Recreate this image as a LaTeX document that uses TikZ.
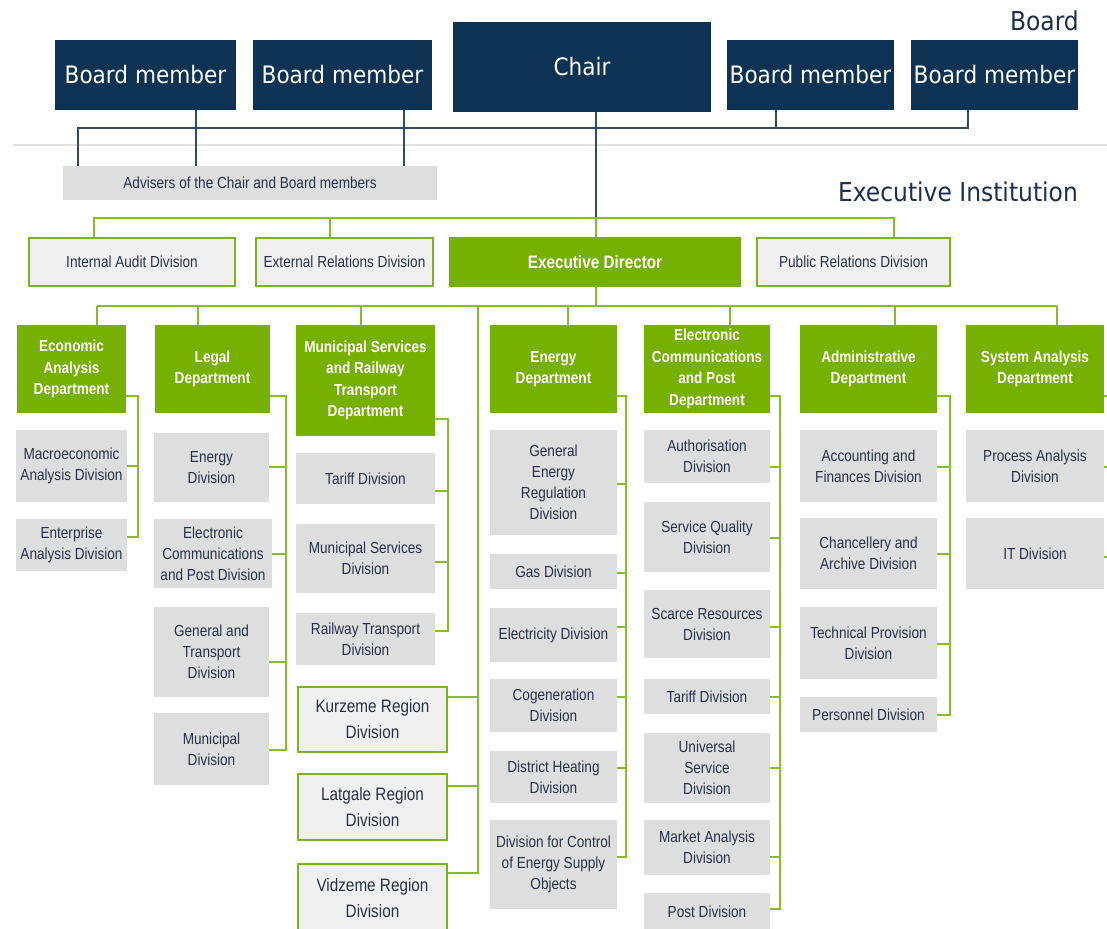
\documentclass[tikz,border=0pt]{standalone}
\usepackage{fontspec}
\newfontfamily\boardfont[FakeStretch=0.9]{DejaVu Sans}
\newfontfamily\divfont[FakeStretch=0.85]{Liberation Sans}
\definecolor{cNavy}{HTML}{0E3254}
\definecolor{cTitle}{HTML}{1C2F4E}
\definecolor{cDept}{HTML}{76B000}
\definecolor{cLine}{HTML}{86BE2A}
\definecolor{cBorder}{HTML}{78B41E}
\definecolor{cGray}{HTML}{DEDEDE}
\definecolor{cLight}{HTML}{F0F0F0}
\definecolor{cText}{HTML}{26324A}
\definecolor{cDark}{HTML}{34495C}
\definecolor{cSep}{HTML}{E2E2E2}
\newcommand\mkbox[7]{\node[#1, minimum width={(#5-#3)*1pt}, minimum height={(#6-#4)*1pt}] (#2) at ({(#3+#5)/2},{(#4+#6)/2}) {#7};}
\tikzset{
  boardbox/.style={fill=cNavy, draw=none, text=white, inner sep=1pt, font=\boardfont\fontsize{24}{28}\selectfont},
  deptbox/.style={fill=cDept, draw=none, text=white, inner sep=1pt, align=center, font=\divfont\bfseries\fontsize{16}{21.5}\selectfont},
  divbox/.style={fill=cGray, draw=none, text=cText, inner sep=1pt, align=center, font=\divfont\fontsize{16}{21}\selectfont},
  gbox/.style={fill=cLight, draw=cBorder, line width=2.6pt, text=cText, inner sep=1pt, align=center, font=\divfont\fontsize{16}{21}\selectfont},
  regbox/.style={gbox, font=\divfont\fontsize{18}{26}\selectfont},
  edbox/.style={fill=cDept, draw=none, text=white, inner sep=1pt, font=\divfont\bfseries\fontsize{18}{22}\selectfont},
  dline/.style={draw=cDark, line width=2.4pt},
  gline/.style={draw=cLine, line width=2.8pt},
  titletext/.style={text=cTitle, inner sep=0pt, font=\boardfont\fontsize{26}{30}\selectfont}
}
\begin{document}
\begin{tikzpicture}[x=1pt,y=-1pt]
\useasboundingbox (0,0) rectangle (1107,928);
\clip (0,0) rectangle (1107,928);
\fill[white] (0,0) rectangle (1107,928);
% separator
\draw[draw=cSep, line width=1.4pt] (13,145) -- (1107,145);
% titles
\node[titletext, anchor=east] (boardlbl) at (1079,21) {Board};
\node[titletext, anchor=east] (execlbl) at (1078,192) {Executive Institution};
% board
\mkbox{boardbox}{bm1}{55}{40}{236}{110}{Board member}
\mkbox{boardbox}{bm2}{253}{40}{432}{110}{Board member}
\mkbox{boardbox}{chair}{453}{22}{711}{112}{Chair}
\mkbox{boardbox}{bm3}{727}{40}{894}{110}{Board member}
\mkbox{boardbox}{bm4}{911}{40}{1078}{110}{Board member}
\mkbox{divbox}{adv}{63}{166}{437}{200}{Advisers of the Chair and Board members}
% board connectors
\coordinate (bl) at (78,128);
\coordinate (br) at (968,128);
\draw[dline] (adv.north -| bl) -- (bl) -- (br) -- (bm4.south -| br);
\draw[dline] (bm1.south -| 196,0) -- (adv.north -| 196,0);
\draw[dline] (bm2.south -| 404,0) -- (adv.north -| 404,0);
\draw[dline] (bm3.south -| 776,0) -- (776,128);
\coordinate (cj) at (596,218);
\draw[dline] (chair.south -| cj) -- (cj);
% executive level
\mkbox{gbox}{ia}{29}{238}{235}{286}{Internal Audit Division}
\mkbox{gbox}{er}{256}{238}{433}{286}{External Relations Division}
\mkbox{edbox}{ed}{449}{237}{741}{287}{Executive Director}
\mkbox{gbox}{pr}{757}{238}{950}{286}{Public Relations Division}
\draw[gline] (ia.north -| 94,0) -- (94,218) -- (894,218) -- (pr.north -| 894,0);
\draw[gline] (er.north -| 330,0) -- (330,218);
\draw[gline] (cj) -- (ed.north -| cj);
% departments
\mkbox{deptbox}{econ}{17}{325}{126}{413}{Economic\\Analysis\\Department}
\mkbox{deptbox}{legal}{155}{325}{270}{413}{Legal\\Department}
\mkbox{deptbox}{muni}{296}{325}{435}{436}{Municipal Services\\and Railway\\Transport\\Department}
\mkbox{deptbox}{energy}{490}{325}{617}{413}{Energy\\Department}
\mkbox{deptbox}{ecp}{644}{325}{770}{413}{Electronic\\Communications\\and Post\\Department}
\mkbox{deptbox}{admin}{800}{325}{937}{413}{Administrative\\Department}
\mkbox{deptbox}{sys}{966}{325}{1104}{413}{System Analysis\\Department}
\coordinate (bar) at (596,306);
\draw[gline] (ed.south -| bar) -- (bar);
\draw[gline] (97,306) -- (1057,306);
\draw[gline] (97,306) -- (econ.north -| 97,0);
\draw[gline] (198,306) -- (legal.north -| 198,0);
\draw[gline] (361,306) -- (muni.north -| 361,0);
\draw[gline] (568,306) -- (energy.north -| 568,0);
\draw[gline] (730,306) -- (ecp.north -| 730,0);
\draw[gline] (895,306) -- (admin.north -| 895,0);
\draw[gline] (1057,306) -- (sys.north -| 1057,0);
% divisions: economic
\mkbox{divbox}{macro}{16}{430}{127}{502}{Macroeconomic\\Analysis Division}
\mkbox{divbox}{ent}{16}{519}{127}{571}{Enterprise\\Analysis Division}
\draw[gline] (econ.east |- 0,396) -- (138,396) -- (138,537) -- (ent.east |- 0,537);
\draw[gline] (macro.east) -- (macro.east -| 138,0);
% legal
\mkbox{divbox}{endiv}{154}{433}{269}{502}{Energy\\Division}
\mkbox{divbox}{ecpdiv}{154}{519}{272}{588}{Electronic\\Communications\\and Post Division}
\mkbox{divbox}{gtdiv}{154}{607}{269}{697}{General and\\Transport\\Division}
\mkbox{divbox}{mundiv}{154}{713}{269}{785}{Municipal\\Division}
\draw[gline] (legal.east |- 0,396) -- (286,396) -- (286,750) -- (mundiv.east |- 0,750);
\draw[gline] (endiv.east |- 0,467) -- (286,467);
\draw[gline] (ecpdiv.east |- 0,554) -- (286,554);
\draw[gline] (gtdiv.east |- 0,662) -- (286,662);
% municipal services
\mkbox{divbox}{tariffa}{296}{453}{435}{504}{Tariff Division}
\mkbox{divbox}{msdiv}{296}{524}{435}{593}{Municipal Services\\Division}
\mkbox{divbox}{rail}{296}{613}{435}{665}{Railway Transport\\Division}
\draw[gline] (muni.east |- 0,419) -- (448,419) -- (448,631) -- (rail.east |- 0,631);
\draw[gline] (tariffa.east |- 0,491) -- (448,491);
\draw[gline] (msdiv.east |- 0,562) -- (448,562);
% regions
\mkbox{regbox}{kur}{298}{687}{447}{752}{Kurzeme Region\\Division}
\mkbox{regbox}{lat}{298}{774}{447}{840}{Latgale Region\\Division}
\mkbox{regbox}{vid}{298}{864}{447}{933}{Vidzeme Region\\Division}
\draw[gline] (478,306) -- (478,873) -- (vid.east |- 0,873);
\draw[gline] (kur.east |- 0,697) -- (478,697);
\draw[gline] (lat.east |- 0,786) -- (478,786);
% energy
\mkbox{divbox}{gen}{490}{430}{617}{535}{General\\Energy\\Regulation\\Division}
\mkbox{divbox}{gas}{490}{554}{617}{589}{Gas Division}
\mkbox{divbox}{elec}{490}{608}{617}{662}{Electricity Division}
\mkbox{divbox}{cogen}{490}{679}{617}{732}{Cogeneration\\Division}
\mkbox{divbox}{dh}{490}{751}{617}{803}{District Heating\\Division}
\mkbox{divbox}{dcontrol}{490}{820}{617}{909}{Division for Control\\of Energy Supply\\Objects}
\draw[gline] (energy.east |- 0,396) -- (626,396) -- (626,857) -- (dcontrol.east |- 0,857);
\draw[gline] (gen.east |- 0,484) -- (626,484);
\draw[gline] (gas.east |- 0,573) -- (626,573);
\draw[gline] (elec.east |- 0,627) -- (626,627);
\draw[gline] (cogen.east |- 0,697) -- (626,697);
\draw[gline] (dh.east |- 0,768) -- (626,768);
% electronic communications
\mkbox{divbox}{auth}{644}{430}{770}{483}{Authorisation\\Division}
\mkbox{divbox}{sq}{644}{502}{770}{572}{Service Quality\\Division}
\mkbox{divbox}{scarce}{644}{590}{770}{658}{Scarce Resources\\Division}
\mkbox{divbox}{tariffb}{644}{679}{770}{714}{Tariff Division}
\mkbox{divbox}{univ}{644}{733}{770}{803}{Universal\\Service\\Division}
\mkbox{divbox}{market}{644}{820}{770}{875}{Market Analysis\\Division}
\mkbox{divbox}{post}{644}{893}{770}{931}{Post Division}
\draw[gline] (ecp.east |- 0,396) -- (780,396) -- (780,909) -- (post.east |- 0,909);
\draw[gline] (auth.east |- 0,467) -- (780,467);
\draw[gline] (sq.east |- 0,538) -- (780,538);
\draw[gline] (scarce.east |- 0,627) -- (780,627);
\draw[gline] (tariffb.east |- 0,697) -- (780,697);
\draw[gline] (univ.east |- 0,768) -- (780,768);
\draw[gline] (market.east |- 0,857) -- (780,857);
% administrative
\mkbox{divbox}{acc}{800}{430}{937}{502}{Accounting and\\Finances Division}
\mkbox{divbox}{chan}{800}{518}{937}{589}{Chancellery and\\Archive Division}
\mkbox{divbox}{tech}{800}{607}{937}{679}{Technical Provision\\Division}
\mkbox{divbox}{pers}{800}{697}{937}{732}{Personnel Division}
\draw[gline] (admin.east |- 0,396) -- (950,396) -- (950,715) -- (pers.east |- 0,715);
\draw[gline] (acc.east |- 0,467) -- (950,467);
\draw[gline] (chan.east |- 0,554) -- (950,554);
\draw[gline] (tech.east |- 0,644) -- (950,644);
% system analysis
\mkbox{divbox}{proc}{966}{430}{1104}{502}{Process Analysis\\Division}
\mkbox{divbox}{itdiv}{966}{518}{1104}{589}{IT Division}
\draw[gline] (sys.east |- 0,396) -- (1112,396) -- (1112,600);
\draw[gline] (proc.east |- 0,467) -- (1112,467);
\draw[gline] (itdiv.east |- 0,557) -- (1112,557);
\end{tikzpicture}
\end{document}
